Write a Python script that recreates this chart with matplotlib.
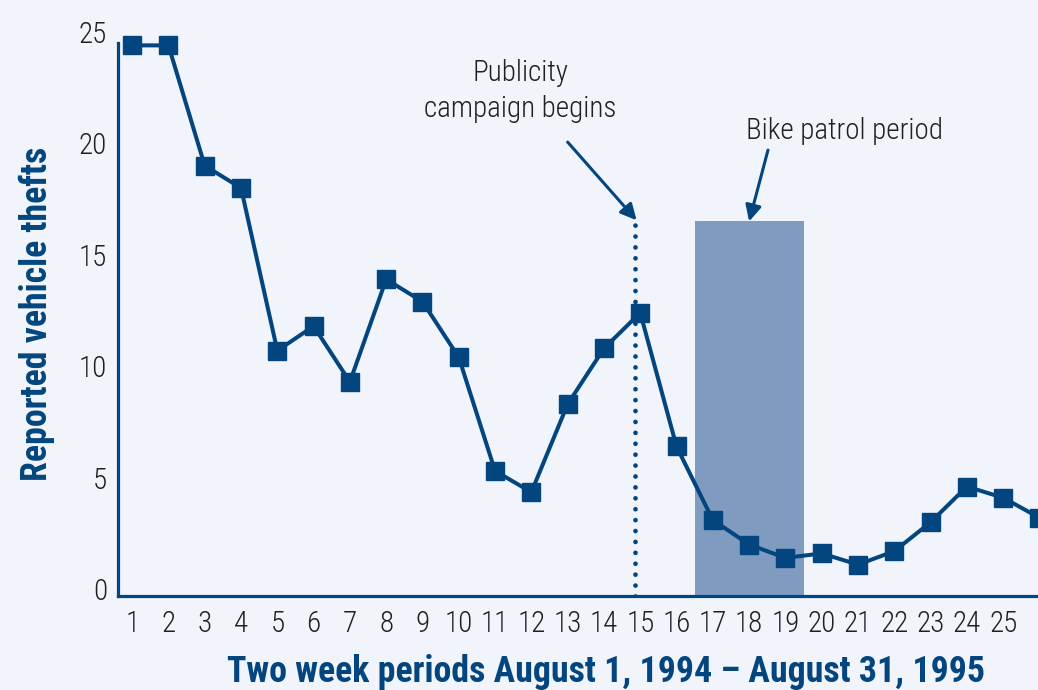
import matplotlib
matplotlib.use("Agg")
import matplotlib.pyplot as plt
from matplotlib.patches import Rectangle

# Data
periods = list(range(1, 27))
thefts = [24.4, 24.4, 19.0, 18.0, 10.7, 11.8, 9.3, 13.9, 12.9, 10.4,
          5.3, 4.35, 8.3, 10.8, 12.4, 6.4, 3.1, 2.0, 1.4, 1.6,
          1.1, 1.7, 3.0, 4.6, 4.1, 3.2]
xtick_labels = [str(i) for i in range(1, 26)]
yticks = [0, 5, 10, 15, 20, 25]
campaign_x = 14.85
campaign_top = 16.4
patrol_start, patrol_end, patrol_top = 16.5, 19.5, 16.5

BG = "#F1F5FB"
BLUE = "#03457E"
RECT = "#7F9BC0"
TXT = "#231F20"
FONT = ["Roboto Condensed", "Open Sans Condensed", "Asap Condensed", "DejaVu Sans"]
plt.rcParams['font.family'] = FONT

YMIN, YMAX = -0.31, 25.0
SPINE_TOP = 24.5
XMIN, XMAX = 0.61, 25.96

W, H = 1038, 690
fig = plt.figure(figsize=(W / 100, H / 100), dpi=100, facecolor=BG)
ax = fig.add_axes([118 / W, (H - 596) / H, 1 - 118 / W, (596 - 32) / H])
ax.set_facecolor(BG)

ax.add_patch(Rectangle((patrol_start, YMIN), patrol_end - patrol_start,
                       patrol_top - YMIN, facecolor=RECT, edgecolor='none', zorder=1))
ax.plot([campaign_x, campaign_x], [YMIN, campaign_top], linestyle=(0, (0.01, 2.3)),
        dash_capstyle='round', color=BLUE, linewidth=3.4, zorder=2)

ax.plot(periods, thefts, color=BLUE, linewidth=2.9, marker='s', markersize=12.5,
        markerfacecolor=BLUE, markeredgecolor=BLUE, zorder=3, clip_on=False)

for s in ['top', 'right']:
    ax.spines[s].set_visible(False)
for s in ['left', 'bottom']:
    ax.spines[s].set_color(BLUE)
    ax.spines[s].set_linewidth(2.3)
ax.spines['left'].set_bounds(YMIN, SPINE_TOP)

ax.set_xticks(range(1, 26))
ax.set_xticklabels(xtick_labels)
ax.set_yticks(yticks)
ax.tick_params(axis='both', length=0, labelsize=21, labelcolor=TXT)
ax.tick_params(axis='x', pad=10)
ax.tick_params(axis='y', pad=8)
for lab in ax.get_xticklabels() + ax.get_yticklabels():
    lab.set_fontweight('light')

ax.set_xlabel("Two week periods August 1, 1994 – August 31, 1995", fontsize=25.8,
              fontweight='bold', color=BLUE)
ax.xaxis.set_label_coords(0.530, -0.103)
ax.set_ylabel("Reported vehicle thefts", fontsize=25.8, fontweight='bold', color=BLUE, labelpad=17)

arrow_kw = dict(arrowstyle='-|>', color=BLUE, lw=2.2, mutation_scale=24, shrinkA=0, shrinkB=0)
ax.annotate("", xy=(14.9, 16.55), xytext=(13.0, 20.06), arrowprops=arrow_kw)
ax.annotate("", xy=(18.0, 16.5), xytext=(18.52, 19.7), arrowprops=arrow_kw)
ax.text(11.69, 21.18, "Publicity\ncampaign begins", ha='center', va='baseline',
        fontsize=21, fontweight='light', color=TXT, linespacing=1.35)
ax.text(20.64, 20.2, "Bike patrol period", ha='center', va='baseline', fontsize=21,
        fontweight='light', color=TXT)

ax.set_xlim(XMIN, XMAX)
ax.set_ylim(YMIN, YMAX)

fig.savefig("out.png", dpi=100, facecolor=BG)
